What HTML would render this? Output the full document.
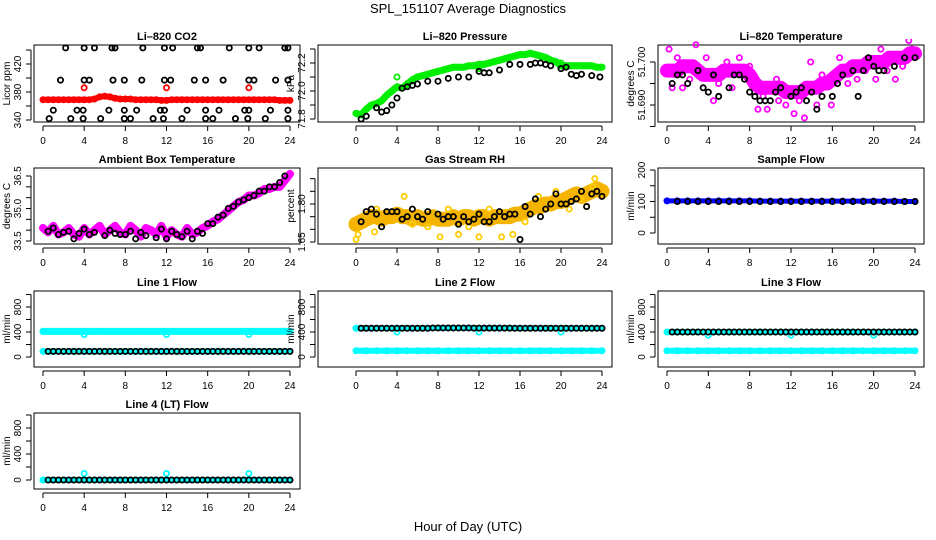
<!DOCTYPE html>
<html><head><meta charset="utf-8"><style>
html,body{margin:0;padding:0;background:#fff;}
svg{display:block;font-family:"Liberation Sans",sans-serif;}
.tt{font-size:11px;font-weight:bold;text-anchor:middle;}
.tk{font-size:10px;}
</style></head><body>
<svg id="c" width="936" height="540" viewBox="0 0 936 540">
<text x="468" y="13" font-size="13" text-anchor="middle">SPL_151107  Average Diagnostics</text>
<text x="468" y="531" font-size="13" text-anchor="middle">Hour of Day (UTC)</text>
</svg>
<script>
const hours = [0,0.5,1,1.5,2,2.5,3,3.5,4,4.5,5,5.5,6,6.5,7,7.5,8,8.5,9,9.5,10,10.5,11,11.5,12,12.5,13,13.5,14,14.5,15,15.5,16,16.5,17,17.5,18,18.5,19,19.5,20,20.5,21,21.5,22,22.5,23,23.5,24];
const hourly = [0,1,2,3,4,5,6,7,8,9,10,11,12,13,14,15,16,17,18,19,20,21,22,23,24];
const xTicks = [0,4,8,12,16,20,24];

const co2Red = [369,369,369,369,369,369,369,369,369,369,370,373,374,373,371,370,370,370,369,369,369,369,369,368,368,369,369,369,369,369,369,369,369,369,369,369,369,369,369,369,369,369,369,369,369,369,368,368,368];
const co2RedOut = [[4,386],[12,386],[20,386]];
const co2Black = [[2.2,443],[4,443],[5,443],[6.7,443],[7,443],[9.7,443],[11.8,443],[12.6,443],[15,443],[15.3,443],[18.1,443],[20,443],[21,443],[23.5,443],[23.8,443],
[1.7,397],[4,397],[4.5,397],[6.8,397],[7.9,397],[9.6,397],[11.8,397],[12.4,397],[14.7,397],[15.8,397],[17.5,397],[20,397],[20.5,397],[22.6,397],[23.8,397],
[1,354],[3.3,354],[3.9,354],[6.4,354],[7.9,354],[9.1,354],[11.4,354],[11.8,354],[14,354],[15.8,354],[17.1,354],[19.6,354],[20,354],[22.1,354],[23.8,354],
[0.6,342],[2.7,342],[3.9,342],[5.6,342],[7.9,342],[8.5,342],[10.7,342],[11.7,342],[13.5,342],[15.8,342],[16.5,342],[18.7,342],[19.9,342],[21.6,342],[23.8,342]];

const presGreen = [71.84,71.83,71.87,71.9,71.91,71.93,71.97,72.0,72.03,72.02,72.05,72.08,72.1,72.11,72.12,72.13,72.14,72.15,72.16,72.17,72.17,72.17,72.18,72.18,72.19,72.19,72.2,72.21,72.22,72.23,72.24,72.25,72.26,72.26,72.27,72.26,72.25,72.24,72.22,72.21,72.18,72.18,72.18,72.18,72.18,72.18,72.18,72.17,72.17];
const presBlack = [[0.5,71.8],[1,71.82],[2,71.88],[2.5,71.85],[3,71.86],[3.5,71.9],[4,71.95],[4.5,72.02],[5,72.03],[5.5,72.04],[6,72.05],[7,72.07],[8,72.07],[9,72.09],[10,72.1],[11,72.1],[12,72.14],[12.5,72.13],[13,72.13],[14,72.15],[15,72.19],[16,72.19],[17,72.19],[17.5,72.2],[18,72.2],[18.5,72.19],[19,72.18],[20,72.16],[20.5,72.17],[21,72.12],[21.5,72.11],[22,72.12],[23,72.11],[23.8,72.1]];

const tempMag = [51.698,51.698,51.698,51.699,51.699,51.699,51.698,51.697,51.697,51.697,51.697,51.698,51.698,51.698,51.698,51.698,51.697,51.695,51.694,51.694,51.694,51.694,51.694,51.693,51.693,51.693,51.693,51.694,51.694,51.694,51.695,51.695,51.696,51.697,51.698,51.698,51.699,51.699,51.699,51.700,51.700,51.700,51.700,51.701,51.701,51.701,51.701,51.702,51.702];
const tempMagOut = [[0.2,51.703],[0.5,51.694],[1.5,51.694],[2.8,51.704],[4.5,51.691],[5.8,51.700],[7,51.701],[8.8,51.689],[9.7,51.689],[10.6,51.696],[11.5,51.690],[12.3,51.688],[13.3,51.687],[14.5,51.690],[15.9,51.690],[16.7,51.701],[18.4,51.696],[19.2,51.698],[20.2,51.696],[21.3,51.698],[22.1,51.696],[23.4,51.705],[23.7,51.703],[3.8,51.701],[6.3,51.694],[13.9,51.700],[1,51.701],[2.2,51.696],[5,51.695],[8,51.699],[9.3,51.692],[10.8,51.691],[12.8,51.691],[15,51.697],[17.5,51.695],[20.7,51.703],[22.8,51.699]];
const tempBlack = [[0.5,51.695],[1,51.697],[1.5,51.697],[2,51.695],[3,51.698],[3.5,51.694],[4,51.693],[4.5,51.697],[5,51.692],[6,51.694],[6.5,51.697],[7,51.697],[7.5,51.696],[8,51.693],[8.5,51.692],[9,51.691],[9.5,51.691],[10,51.691],[10.5,51.693],[11,51.694],[12,51.692],[12.5,51.693],[13,51.694],[13.5,51.691],[14,51.693],[14.5,51.689],[15,51.692],[16,51.692],[16.5,51.695],[17,51.697],[18,51.698],[18.5,51.692],[19,51.698],[19.5,51.701],[20,51.699],[20.5,51.698],[21,51.698],[22,51.699],[23,51.701],[24,51.701]];

const ambMag = [34.1,33.9,34.2,33.8,33.9,34.1,33.8,33.7,34.1,33.8,34.0,34.2,33.8,34.0,34.2,33.9,33.8,34.2,34.0,33.7,34.1,34.0,33.8,34.2,33.7,34.0,33.8,33.7,34.1,33.8,33.9,34.1,34.2,34.4,34.5,34.7,34.9,35.1,35.3,35.4,35.6,35.6,35.7,35.9,35.9,36.0,36.0,36.3,36.6];
const ambBlack = [[0.5,33.95],[1,34.1],[1.5,33.8],[2,33.9],[2.5,33.95],[3,33.6],[3.5,33.85],[4,34.05],[4.5,33.8],[5,33.9],[6,33.75],[6.5,34.0],[7,33.85],[7.5,33.8],[8,33.8],[8.5,33.95],[9,33.6],[9.5,33.9],[10,33.75],[11,33.65],[11.5,34.05],[12,33.6],[12.5,33.95],[13,33.8],[13.5,33.7],[14,33.95],[14.5,33.6],[15,33.95],[15.5,33.85],[16,34.3],[16.5,34.3],[17,34.6],[17.5,34.7],[18,35.0],[18.5,35.1],[19,35.3],[19.5,35.4],[20,35.5],[20.5,35.6],[21,35.8],[21.5,35.8],[22,36.0],[22.5,36.0],[23,36.2],[23.5,36.5]];

const rhBand = [1.72,1.73,1.74,1.75,1.75,1.74,1.75,1.75,1.76,1.75,1.75,1.74,1.75,1.74,1.74,1.75,1.74,1.74,1.74,1.75,1.74,1.75,1.75,1.74,1.75,1.75,1.74,1.75,1.75,1.75,1.75,1.76,1.76,1.77,1.78,1.79,1.79,1.80,1.80,1.81,1.81,1.82,1.83,1.84,1.83,1.84,1.85,1.86,1.85];
const rhOut = [[0,1.66],[0.2,1.68],[1.8,1.69],[4.7,1.83],[8.2,1.67],[10,1.68],[12,1.67],[14.2,1.67],[15.3,1.68],[19.5,1.85],[22.5,1.79],[23.3,1.90],[23.1,1.87],[21.9,1.82],[2,1.78],[5.5,1.72],[7,1.71],[9,1.78],[11,1.71],[13,1.78],[16.5,1.73],[17.8,1.83],[20.8,1.78]];
const rhBlack = [[0.5,1.73],[1,1.77],[1.5,1.78],[2,1.76],[2.5,1.71],[3,1.77],[3.5,1.77],[4,1.77],[4.5,1.74],[5,1.75],[5.5,1.78],[6,1.75],[6.5,1.74],[7,1.77],[8,1.76],[8.5,1.74],[9,1.75],[9.5,1.75],[10,1.72],[10.5,1.75],[11,1.73],[11.5,1.74],[12,1.76],[12.5,1.73],[13,1.73],[13.5,1.75],[14,1.77],[14.5,1.75],[15,1.76],[15.5,1.76],[16,1.66],[16.5,1.79],[17,1.76],[17.5,1.82],[18,1.75],[18.5,1.78],[19,1.80],[19.5,1.84],[20,1.80],[20.5,1.80],[21,1.81],[21.5,1.82],[22,1.85],[22.5,1.79],[23,1.84],[23.5,1.85],[24,1.83]];

const sampleBlue = [102,102,102,102,102,102,102,102,102,101,101,101,101,101,101,101,101,101,101,101,101,101,101,100,100];
const sampleBlack = [100,100,100,100,100,100,100,100,100,100,100,100,100,100,100,100,100,100,100,100,100,100,100,100,100];

const l1Hi = [410,410,410,410,410,410,410,410,410,410,410,410,410,410,410,410,410,410,410,410,410,410,410,410,410];
const l1Lo = [90,90,90,90,90,90,90,90,90,90,90,90,90,90,90,90,90,90,90,90,90,90,90,90,90];
const l1Dip = [[4,360],[12,360],[20,360]];
const l2Hi = [460,460,460,460,460,460,460,460,465,465,465,465,462,462,462,462,460,460,460,460,460,460,460,460,460];
const l2Lo = [100,100,100,100,100,100,100,100,100,100,100,100,100,100,100,100,100,100,100,100,100,100,100,100,100];
const l2Dip = [[4,400],[12,400],[20,400]];
const l3Hi = [400,400,400,400,400,400,400,400,400,400,400,400,400,400,400,400,400,400,400,400,400,400,400,400,400];
const l3Lo = [100,100,100,100,100,100,100,100,100,100,100,100,100,100,100,100,100,100,100,100,100,100,100,100,100];
const l3Dip = [[4,350],[12,350],[20,350]];
const l4Val = [0,0,0,0,0,0,0,0,0,0,0,0,0,0,0,0,0,0,0,0,0,0,0,0,0];
const l4Out = [[4,100],[12,100],[20,100]];

const svg = document.getElementById('c');
const NS = 'http://www.w3.org/2000/svg';
function mk(tag, attrs, parent) {
  const e = document.createElementNS(NS, tag);
  for (const k in attrs) e.setAttribute(k, attrs[k]);
  (parent || svg).appendChild(e);
  return e;
}
const COLS = [{bx0:34,bx1:300,x0:43,x1:290},{bx0:318,bx1:612,x0:356,x1:602},{bx0:658,bx1:924,x0:667,x1:915}];
const ROWS = [{by0:45,by1:122},{by0:168,by1:244},{by0:291,by1:367},{by0:413,by1:489}];

function panel(name, title, col, row, ymap, ticks, labels, ylab, labFmt) {
  const C = COLS[col], R = ROWS[row];
  const g = mk('g', {});
  
  
  const sx = v => C.x0 + (v - 0) * (C.x1 - C.x0) / 24;
  const sy = v => ymap[1] + (v - ymap[0]) * (ymap[3] - ymap[1]) / (ymap[2] - ymap[0]);
  const t = mk('text', {x:(C.bx0+C.bx1)/2, y:R.by0-5, class:'tt'}, g);
  t.textContent = title;
  
  
  const box = mk('rect', {x:C.bx0, y:R.by0, width:C.bx1-C.bx0, height:R.by1-R.by0, fill:'none', stroke:'#000', 'stroke-width':1}, g);
  
  
  const xa = mk('g', {}, g);
  
  
  mk('line', {x1:sx(0), x2:sx(24), y1:R.by1+4, y2:R.by1+4, stroke:'#000'}, xa);
  xTicks.forEach(v => {
    mk('line', {x1:sx(v), x2:sx(v), y1:R.by1+4, y2:R.by1+9, stroke:'#000'}, xa);
    const tl = mk('text', {x:sx(v), y:R.by1+22, class:'tk', 'text-anchor':'middle'}, xa);
    tl.textContent = v;
  });
  const ya = mk('g', {}, g);
  
  
  const ax = C.bx0 - 3;
  mk('line', {x1:ax, x2:ax, y1:sy(ticks[0]), y2:sy(ticks[ticks.length-1]), stroke:'#000'}, ya);
  ticks.forEach(v => mk('line', {x1:ax-5, x2:ax, y1:sy(v), y2:sy(v), stroke:'#000'}, ya));
  labels.forEach(v => {
    const tl = mk('text', {x:0, y:0, class:'tk', 'text-anchor':'middle', transform:`translate(${ax-10},${sy(v)}) rotate(-90)`}, ya);
    tl.textContent = labFmt ? labFmt(v) : v;
  });
  const yt = mk('text', {x:0, y:0, class:'tk', 'text-anchor':'middle', transform:`translate(${C.bx0-24},${(R.by0+R.by1)/2}) rotate(-90)`}, g);
  yt.textContent = ylab;
  
  
  const clip = 'cl' + name;
  const cp = mk('clipPath', {id:clip}, g);
  mk('rect', {x:C.bx0, y:R.by0-6, width:C.bx1-C.bx0, height:R.by1-R.by0+12}, cp);
  const plot = mk('g', {'clip-path':`url(#${clip})`}, g);
  return {sx, sy, plot};
}
function band(P, xs, ys, color, w, sname) {
  const pts = xs.map((x,i) => P.sx(x) + ',' + P.sy(ys[i])).join(' ');
  const pl = mk('polyline', {points:pts, fill:'none', stroke:color, 'stroke-width':w, 'stroke-linejoin':'round', 'stroke-linecap':'round'}, P.plot);
  
  
  xs.forEach((x,i) => {
    const c = mk('circle', {cx:P.sx(x), cy:P.sy(ys[i]), r:2.6, fill:'none', stroke:color, 'stroke-width':1.8}, P.plot);
    
    
  });
}
function pts(P, pairs, color, sname, r) {
  pairs.forEach(p => {
    const c = mk('circle', {cx:P.sx(p[0]), cy:P.sy(p[1]), r:r||2.6, fill:'none', stroke:color, 'stroke-width':1.8}, P.plot);
    
    
  });
}
const zip = (xs, ys) => xs.map((x,i) => [x, ys[i]]);

// CO2
let P = panel('co2', 'Li\u2013820 CO2', 0, 0, [340,120,440,50], [340,360,380,400,420,440], [340,380,420], 'Licor ppm');
band(P, hours, co2Red, '#ff0000', 6, 'co2-red');
pts(P, co2RedOut, '#ff0000', 'co2-red-outlier');
pts(P, co2Black, '#000', 'co2-black');
// Pressure
P = panel('pressure', 'Li\u2013820 Pressure', 1, 0, [71.8,119,72.2,63], [71.8,71.9,72.0,72.1,72.2,72.3], [71.8,72.0,72.2], 'kPa', v => v.toFixed(1));
band(P, hours, presGreen, '#00ee00', 7, 'pressure-green');
pts(P, [[4,72.1],[12,72.16],[20,72.2]], '#00ee00', 'pressure-green-outlier');
pts(P, presBlack, '#000', 'pressure-black');
// Temperature
P = panel('temperature', 'Li\u2013820 Temperature', 2, 0, [51.690,105,51.700,62], [51.685,51.690,51.695,51.700], [51.690,51.700], 'degrees C', v => v.toFixed(3));
band(P, hours, tempMag, '#ff00ff', 14, 'temp-magenta');
pts(P, tempMagOut, '#ff00ff', 'temp-magenta-outlier');
pts(P, tempBlack, '#000', 'temp-black');
// Ambient
P = panel('ambient', 'Ambient Box Temperature', 0, 1, [33.5,241,36.5,176], [33.5,34.0,34.5,35.0,35.5,36.0,36.5], [33.5,35.0,36.5], 'degrees C', v => v.toFixed(1));
band(P, hours, ambMag, '#ff00ff', 8, 'ambient-magenta');
pts(P, ambBlack, '#000', 'ambient-black');
// RH
P = panel('rh', 'Gas Stream RH', 1, 1, [1.65,242,1.80,204], [1.65,1.70,1.75,1.80,1.85,1.90], [1.65,1.80], 'percent', v => v.toFixed(2));
band(P, hours, rhBand, '#f4b400', 15, 'rh-orange');
pts(P, rhOut, '#ffcc00', 'rh-orange-outlier');
pts(P, rhBlack, '#000', 'rh-black');
// Sample flow
P = panel('sample-flow', 'Sample Flow', 2, 1, [0,233,200,170], [0,50,100,150,200], [0,100,200], 'ml/min');
band(P, hourly, sampleBlue, '#0000ff', 5, 'sample-blue');
pts(P, zip(hourly.slice(1), sampleBlack.slice(1)), '#000', 'sample-black');
// Line flows
const flowTicks = [0,200,400,600,800,1000], flowLab = [0,400,800];
P = panel('line1', 'Line 1 Flow', 0, 2, [0,357,800,307], flowTicks, flowLab, 'ml/min');
band(P, hourly, l1Hi, '#00ffff', 7, 'line1-cyan-high');
band(P, hourly, l1Lo, '#00ffff', 6, 'line1-cyan-low');
pts(P, l1Dip, '#00ffff', 'line1-cyan-dip');
pts(P, zip(hours.slice(1), hours.slice(1).map(() => l1Lo[0])), '#000', 'line1-black');
P = panel('line2', 'Line 2 Flow', 1, 2, [0,357,800,307], flowTicks, flowLab, 'ml/min');
band(P, hourly, l2Hi, '#00ffff', 6, 'line2-cyan-high');
band(P, hourly, l2Lo, '#00ffff', 6, 'line2-cyan-low');
pts(P, l2Dip, '#00ffff', 'line2-cyan-dip');
pts(P, zip(hours.slice(1), hours.slice(1).map(h => l2Hi[Math.round(h)])), '#000', 'line2-black');
P = panel('line3', 'Line 3 Flow', 2, 2, [0,357,800,307], flowTicks, flowLab, 'ml/min');
band(P, hourly, l3Hi, '#00ffff', 6, 'line3-cyan-high');
band(P, hourly, l3Lo, '#00ffff', 6, 'line3-cyan-low');
pts(P, l3Dip, '#00ffff', 'line3-cyan-dip');
pts(P, zip(hours.slice(1), hours.slice(1).map(h => l3Hi[Math.round(h)])), '#000', 'line3-black');
P = panel('line4', 'Line 4 (LT) Flow', 0, 3, [0,480,800,428], flowTicks, flowLab, 'ml/min');
band(P, hourly, l4Val, '#00ffff', 6, 'line4-cyan');
pts(P, l4Out, '#00ffff', 'line4-cyan-outlier');
pts(P, zip(hours.slice(1), hours.slice(1).map(h => l4Val[Math.round(h)])), '#000', 'line4-black');
</script>
</body></html>
